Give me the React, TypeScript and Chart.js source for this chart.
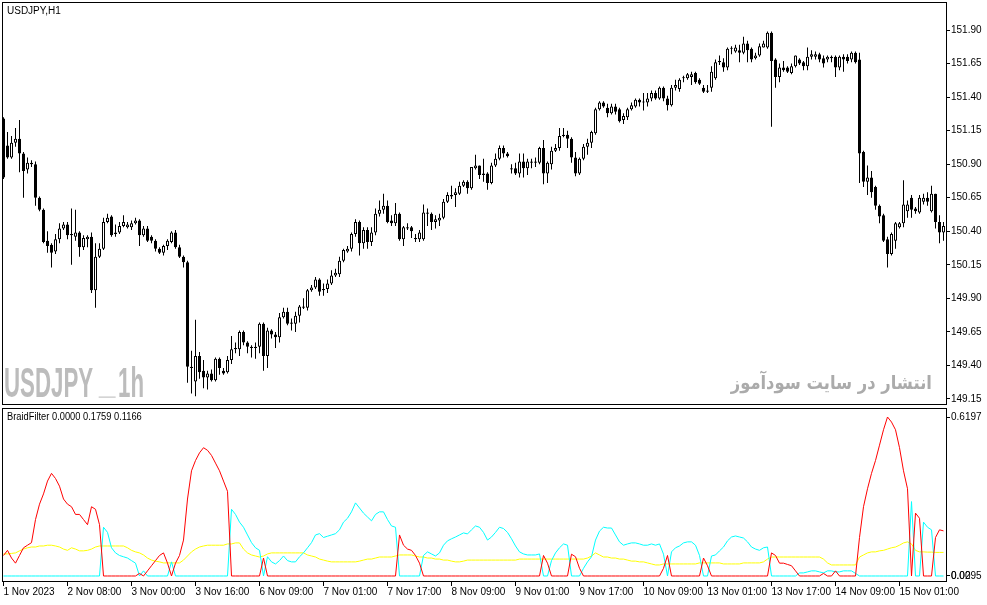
import { useEffect, useRef } from "react"
import { Chart, registerables } from "chart.js"

Chart.register(...registerables)

// USDJPY H1 candles, 1 Nov 2023 16:00 .. 15 Nov 2023
const OPEN = [
  151.24, 151.04, 150.95, 151.06, 151.09, 150.98, 150.86, 150.91, 150.90, 150.65,
  150.56, 150.33, 150.30, 150.25, 150.34, 150.42, 150.45, 150.37, 150.36, 150.39,
  150.28, 150.34, 150.36, 149.96, 150.21, 150.27, 150.47, 150.51, 150.38, 150.39,
  150.44, 150.43, 150.43, 150.46, 150.48, 150.37, 150.42, 150.36, 150.33, 150.27,
  150.24, 150.29, 150.32, 150.39, 150.28, 150.21, 150.17, 149.39, 149.28, 149.47,
  149.36, 149.31, 149.34, 149.29, 149.45, 149.36, 149.35, 149.44, 149.52, 149.52,
  149.65, 149.57, 149.54, 149.53, 149.54, 149.71, 149.47, 149.66, 149.63, 149.61,
  149.76, 149.80, 149.72, 149.71, 149.77, 149.83, 149.83, 149.96, 149.98, 150.04,
  149.96, 149.97, 150.01, 150.07, 150.08, 150.18, 150.25, 150.27, 150.38, 150.47,
  150.31, 150.41, 150.32, 150.39, 150.53, 150.56, 150.59, 150.48, 150.46, 150.53,
  150.34, 150.42, 150.43, 150.34, 150.34, 150.34, 150.54, 150.53, 150.47, 150.48,
  150.50, 150.62, 150.66, 150.67, 150.68, 150.74, 150.77, 150.72, 150.87, 150.89,
  150.82, 150.83, 150.76, 150.89, 150.94, 151.02, 150.98, 150.86, 150.87, 150.83,
  150.92, 150.87, 150.92, 150.91, 150.91, 151.02, 150.83, 150.90, 151.00, 151.02,
  151.11, 151.12, 151.09, 150.95, 150.83, 150.94, 151.03, 151.06, 151.13, 151.31,
  151.36, 151.32, 151.28, 151.33, 151.31, 151.23, 151.25, 151.31, 151.33, 151.38,
  151.36, 151.36, 151.39, 151.43, 151.39, 151.47, 151.39, 151.34, 151.47, 151.46,
  151.54, 151.54, 151.55, 151.58, 151.53, 151.47, 151.45, 151.47, 151.54, 151.66,
  151.66, 151.62, 151.76, 151.74, 151.75, 151.73, 151.80, 151.76, 151.69, 151.71,
  151.77, 151.77, 151.88, 151.68, 151.55, 151.62, 151.62, 151.58, 151.63, 151.68,
  151.66, 151.63, 151.70, 151.70, 151.72, 151.69, 151.68, 151.69, 151.70, 151.62,
  151.70, 151.70, 151.68, 151.73, 151.68, 150.99, 150.77, 150.80, 150.73, 150.59,
  150.52, 150.34, 150.23, 150.33, 150.43, 150.46, 150.55, 150.65, 150.57, 150.54,
  150.62, 150.65, 150.55, 150.68, 150.47, 150.39,
]

const HIGH = [
  151.25, 151.14, 151.11, 151.17, 151.23, 150.99, 150.95, 150.93, 150.92, 150.66,
  150.57, 150.40, 150.31, 150.38, 150.46, 150.47, 150.47, 150.57, 150.56, 150.40,
  150.37, 150.37, 150.39, 150.31, 150.31, 150.50, 150.53, 150.52, 150.45, 150.47,
  150.52, 150.47, 150.48, 150.50, 150.49, 150.44, 150.44, 150.37, 150.34, 150.28,
  150.30, 150.34, 150.40, 150.41, 150.30, 150.22, 150.18, 149.51, 149.74, 149.50,
  149.44, 149.36, 149.37, 149.46, 149.46, 149.38, 149.47, 149.62, 149.57, 149.66,
  149.66, 149.58, 149.55, 149.57, 149.72, 149.72, 149.68, 149.67, 149.65, 149.79,
  149.83, 149.83, 149.75, 149.80, 149.85, 149.90, 149.97, 150.00, 150.06, 150.05,
  150.01, 150.04, 150.11, 150.12, 150.21, 150.27, 150.29, 150.39, 150.49, 150.48,
  150.43, 150.43, 150.43, 150.57, 150.63, 150.68, 150.63, 150.52, 150.61, 150.54,
  150.44, 150.46, 150.44, 150.38, 150.41, 150.60, 150.57, 150.54, 150.52, 150.53,
  150.64, 150.69, 150.74, 150.72, 150.77, 150.78, 150.78, 150.88, 150.97, 150.89,
  150.94, 150.84, 150.91, 150.98, 151.04, 151.04, 150.99, 150.90, 150.91, 150.98,
  150.98, 150.94, 150.94, 150.95, 151.03, 151.08, 150.92, 151.03, 151.05, 151.17,
  151.17, 151.15, 151.10, 150.99, 150.95, 151.05, 151.09, 151.15, 151.32, 151.37,
  151.37, 151.35, 151.35, 151.35, 151.32, 151.28, 151.32, 151.36, 151.39, 151.39,
  151.43, 151.43, 151.45, 151.45, 151.48, 151.48, 151.41, 151.49, 151.53, 151.54,
  151.56, 151.58, 151.59, 151.59, 151.54, 151.49, 151.49, 151.63, 151.68, 151.71,
  151.69, 151.77, 151.78, 151.79, 151.79, 151.85, 151.82, 151.77, 151.73, 151.80,
  151.82, 151.89, 151.89, 151.69, 151.65, 151.67, 151.63, 151.65, 151.71, 151.69,
  151.67, 151.77, 151.75, 151.74, 151.73, 151.71, 151.71, 151.71, 151.71, 151.71,
  151.72, 151.72, 151.74, 151.74, 151.73, 151.00, 150.89, 150.85, 150.74, 150.60,
  150.53, 150.36, 150.39, 150.47, 150.47, 150.78, 150.63, 150.67, 150.58, 150.67,
  150.68, 150.69, 150.74, 150.68, 150.52, 150.47,
]

const LOW = [
  150.79, 150.94, 150.94, 151.03, 150.84, 150.65, 150.83, 150.88, 150.59, 150.55,
  150.31, 150.24, 150.13, 150.23, 150.31, 150.41, 150.34, 150.15, 150.33, 150.21,
  150.26, 150.28, 149.94, 149.83, 150.20, 150.26, 150.46, 150.36, 150.36, 150.38,
  150.43, 150.42, 150.41, 150.45, 150.29, 150.36, 150.32, 150.31, 150.25, 150.23,
  150.22, 150.26, 150.31, 150.27, 150.20, 150.13, 149.27, 149.19, 149.17, 149.30,
  149.23, 149.22, 149.28, 149.28, 149.33, 149.33, 149.34, 149.41, 149.49, 149.47,
  149.55, 149.49, 149.46, 149.45, 149.49, 149.36, 149.38, 149.60, 149.53, 149.57,
  149.75, 149.70, 149.66, 149.65, 149.72, 149.82, 149.81, 149.95, 149.97, 149.92,
  149.92, 149.94, 150.00, 150.06, 150.06, 150.17, 150.24, 150.25, 150.36, 150.22,
  150.27, 150.27, 150.29, 150.37, 150.51, 150.53, 150.46, 150.44, 150.44, 150.33,
  150.29, 150.41, 150.35, 150.32, 150.32, 150.33, 150.44, 150.41, 150.42, 150.44,
  150.49, 150.61, 150.64, 150.58, 150.67, 150.73, 150.68, 150.71, 150.86, 150.79,
  150.77, 150.71, 150.75, 150.88, 150.93, 150.95, 150.95, 150.83, 150.82, 150.80,
  150.80, 150.82, 150.87, 150.88, 150.90, 150.75, 150.76, 150.86, 150.99, 151.00,
  151.10, 151.02, 150.91, 150.81, 150.82, 150.93, 150.97, 151.02, 151.12, 151.30,
  151.32, 151.25, 151.27, 151.27, 151.21, 151.20, 151.23, 151.30, 151.32, 151.33,
  151.30, 151.33, 151.37, 151.38, 151.38, 151.37, 151.30, 151.33, 151.45, 151.44,
  151.51, 151.53, 151.49, 151.50, 151.49, 151.43, 151.43, 151.44, 151.53, 151.64,
  151.59, 151.60, 151.72, 151.73, 151.66, 151.72, 151.66, 151.66, 151.68, 151.70,
  151.77, 151.76, 151.18, 151.47, 151.51, 151.59, 151.58, 151.57, 151.62, 151.64,
  151.60, 151.60, 151.68, 151.68, 151.66, 151.62, 151.66, 151.66, 151.55, 151.60,
  151.59, 151.65, 151.66, 151.65, 150.76, 150.73, 150.67, 150.65, 150.56, 150.46,
  150.32, 150.13, 150.22, 150.27, 150.42, 150.43, 150.50, 150.50, 150.53, 150.53,
  150.60, 150.59, 150.54, 150.42, 150.31, 150.33,
]

const CLOSE = [
  150.80, 150.95, 151.06, 151.09, 150.98, 150.85, 150.91, 150.90, 150.65, 150.56,
  150.32, 150.29, 150.24, 150.34, 150.42, 150.45, 150.37, 150.38, 150.39, 150.28,
  150.35, 150.36, 149.96, 150.21, 150.27, 150.47, 150.50, 150.37, 150.39, 150.44,
  150.47, 150.45, 150.46, 150.48, 150.37, 150.42, 150.33, 150.33, 150.27, 150.24,
  150.29, 150.33, 150.39, 150.28, 150.21, 150.17, 149.39, 149.38, 149.47, 149.35,
  149.31, 149.34, 149.29, 149.45, 149.38, 149.34, 149.44, 149.52, 149.53, 149.65,
  149.57, 149.54, 149.53, 149.54, 149.71, 149.47, 149.66, 149.63, 149.61, 149.76,
  149.80, 149.71, 149.71, 149.77, 149.84, 149.84, 149.96, 149.98, 150.04, 149.95,
  149.97, 150.01, 150.07, 150.09, 150.18, 150.26, 150.27, 150.38, 150.47, 150.31,
  150.41, 150.32, 150.39, 150.53, 150.56, 150.59, 150.47, 150.46, 150.53, 150.34,
  150.43, 150.43, 150.40, 150.35, 150.39, 150.54, 150.53, 150.47, 150.49, 150.50,
  150.62, 150.67, 150.67, 150.69, 150.74, 150.77, 150.72, 150.88, 150.89, 150.82,
  150.83, 150.76, 150.89, 150.94, 151.02, 150.98, 150.96, 150.87, 150.83, 150.92,
  150.87, 150.92, 150.91, 150.92, 151.02, 150.83, 150.91, 151.00, 151.02, 151.11,
  151.12, 151.09, 150.95, 150.83, 150.94, 151.03, 151.06, 151.14, 151.31, 151.36,
  151.33, 151.28, 151.33, 151.29, 151.22, 151.26, 151.31, 151.34, 151.38, 151.36,
  151.36, 151.39, 151.43, 151.39, 151.47, 151.39, 151.34, 151.47, 151.49, 151.53,
  151.54, 151.57, 151.57, 151.51, 151.50, 151.44, 151.44, 151.59, 151.66, 151.67,
  151.62, 151.76, 151.76, 151.77, 151.73, 151.80, 151.75, 151.68, 151.71, 151.78,
  151.80, 151.88, 151.67, 151.55, 151.62, 151.60, 151.59, 151.63, 151.71, 151.65,
  151.63, 151.70, 151.72, 151.72, 151.68, 151.65, 151.70, 151.70, 151.62, 151.70,
  151.68, 151.67, 151.73, 151.66, 150.98, 150.77, 150.80, 150.69, 150.59, 150.51,
  150.33, 150.23, 150.38, 150.46, 150.46, 150.60, 150.60, 150.56, 150.55, 150.65,
  150.65, 150.62, 150.68, 150.47, 150.39, 150.44,
]

// BraidFilter buffers, one value per candle
const RED = [
  0.08, 0.10, 0.07, 0.05, 0.08, 0.11, 0.12, 0.13, 0.22, 0.28,
  0.32, 0.37, 0.40, 0.38, 0.35, 0.30, 0.28, 0.27, 0.24, 0.24,
  0.22, 0.20, 0.27, 0.26, 0.20, 0, 0, 0, 0, 0,
  0, 0, 0, 0, 0.01, 0, 0.02, 0.04, 0.06, 0.08,
  0.09, 0.05, 0, 0.05, 0.08, 0.14, 0.30, 0.41, 0.45, 0.48,
  0.50, 0.49, 0.47, 0.44, 0.41, 0.37, 0.33, 0, 0, 0,
  0, 0, 0, 0, 0, 0.07, 0, 0, 0, 0,
  0, 0, 0, 0, 0, 0, 0, 0, 0, 0,
  0, 0, 0, 0, 0, 0, 0, 0, 0, 0,
  0, 0, 0, 0, 0, 0, 0, 0, 0, 0.16,
  0.12, 0.105, 0.10, 0.08, 0.05, 0, 0, 0, 0, 0,
  0, 0, 0, 0, 0, 0, 0, 0, 0, 0,
  0, 0, 0, 0, 0, 0, 0, 0, 0, 0,
  0, 0, 0, 0, 0, 0.08, 0.05, 0, 0, 0,
  0, 0, 0.085, 0.075, 0.03, 0, 0, 0, 0, 0,
  0, 0, 0, 0, 0, 0, 0, 0, 0, 0,
  0, 0, 0, 0, 0, 0.03, 0.08, 0, 0, 0,
  0, 0, 0, 0, 0, 0.07, 0.04, 0, 0, 0,
  0, 0, 0, 0, 0, 0, 0, 0, 0, 0,
  0, 0, 0.09, 0.08, 0.05, 0.05, 0.045, 0.04, 0.02, 0,
  0, 0, 0, 0, 0, 0.01, 0, 0, 0.02, 0,
  0, 0, 0, 0, 0.15, 0.27, 0.34, 0.40, 0.45, 0.51,
  0.57, 0.6197, 0.60, 0.57, 0.50, 0.41, 0.34, 0, 0.245, 0.225,
  0, 0, 0, 0.15, 0.18, 0.1759,
]

const CYAN = [
  0, 0, 0, 0, 0, 0, 0, 0, 0, 0,
  0, 0, 0, 0, 0, 0, 0, 0, 0, 0,
  0, 0, 0, 0, 0, 0.19, 0.17, 0.11, 0.09, 0.08,
  0.075, 0.07, 0.06, 0.05, 0, 0.02, 0, 0, 0, 0,
  0, 0, 0.055, 0, 0, 0, 0, 0, 0, 0,
  0, 0, 0, 0, 0, 0, 0, 0.26, 0.24, 0.21,
  0.19, 0.16, 0.13, 0.11, 0.10, 0, 0.075, 0.055, 0.047, 0.06,
  0.078, 0.06, 0.055, 0.055, 0.075, 0.09, 0.11, 0.13, 0.16, 0.165,
  0.15, 0.155, 0.16, 0.165, 0.18, 0.21, 0.225, 0.25, 0.285, 0.265,
  0.245, 0.23, 0.215, 0.24, 0.25, 0.25, 0.22, 0.195, 0.19, 0,
  0, 0, 0, 0, 0, 0.08, 0.094, 0.086, 0.078, 0.09,
  0.12, 0.137, 0.145, 0.152, 0.16, 0.168, 0.164, 0.18, 0.195, 0.19,
  0.17, 0.14, 0.152, 0.17, 0.19, 0.185, 0.17, 0.145, 0.117, 0.094,
  0.086, 0.082, 0.082, 0.082, 0.086, 0, 0, 0.06, 0.09, 0.11,
  0.125, 0.12, 0, 0, 0, 0.03, 0.055, 0.075, 0.14, 0.175,
  0.19, 0.187, 0.187, 0.16, 0.133, 0.12, 0.125, 0.129, 0.129, 0.125,
  0.12, 0.12, 0.125, 0.12, 0.125, 0.085, 0, 0.094, 0.11, 0.117,
  0.129, 0.133, 0.133, 0.12, 0.08, 0, 0, 0.078, 0.082, 0.098,
  0.113, 0.137, 0.152, 0.156, 0.152, 0.148, 0.133, 0.113, 0.105, 0.10,
  0.11, 0.113, 0, 0, 0, 0, 0, 0, 0, 0.012,
  0.012, 0.016, 0.02, 0.02, 0.016, 0.012, 0.02, 0.02, 0.016, 0.016,
  0.02, 0.02, 0.02, 0.01, 0, 0, 0, 0, 0, 0,
  0, 0, 0, 0, 0, 0, 0, 0.29, 0, 0,
  0.21, 0.19, 0.18, 0, 0, 0,
]

const YELLOW = [
  0.086, 0.086, 0.088, 0.090, 0.098, 0.105, 0.11, 0.113, 0.113, 0.117,
  0.117, 0.12, 0.12, 0.117, 0.113, 0.105, 0.10, 0.11, 0.105, 0.098,
  0.098, 0.10, 0.105, 0.113, 0.117, 0.117, 0.117, 0.117, 0.117, 0.117,
  0.117, 0.11, 0.10, 0.094, 0.09, 0.082, 0.07, 0.062, 0.058, 0.055,
  0.051, 0.051, 0.051, 0.051, 0.051, 0.062, 0.078, 0.094, 0.105, 0.113,
  0.117, 0.12, 0.12, 0.12, 0.12, 0.12, 0.125, 0.125, 0.129, 0.129,
  0.105, 0.09, 0.082, 0.078, 0.074, 0.078, 0.086, 0.09, 0.09, 0.09,
  0.09, 0.09, 0.09, 0.09, 0.09, 0.09, 0.082, 0.078, 0.074, 0.066,
  0.062, 0.058, 0.055, 0.055, 0.055, 0.055, 0.055, 0.055, 0.055, 0.058,
  0.062, 0.066, 0.066, 0.07, 0.074, 0.074, 0.074, 0.074, 0.078, 0.082,
  0.082, 0.082, 0.082, 0.078, 0.074, 0.074, 0.07, 0.07, 0.066, 0.066,
  0.062, 0.062, 0.058, 0.055, 0.055, 0.058, 0.062, 0.062, 0.062, 0.062,
  0.062, 0.062, 0.062, 0.062, 0.062, 0.062, 0.062, 0.062, 0.062, 0.066,
  0.066, 0.066, 0.066, 0.066, 0.066, 0.066, 0.066, 0.066, 0.066, 0.066,
  0.066, 0.066, 0.066, 0.066, 0.066, 0.066, 0.07, 0.078, 0.09, 0.082,
  0.074, 0.074, 0.07, 0.07, 0.066, 0.066, 0.062, 0.058, 0.058, 0.055,
  0.055, 0.051, 0.047, 0.043, 0.043, 0.047, 0.047, 0.047, 0.047, 0.047,
  0.047, 0.047, 0.047, 0.047, 0.051, 0.051, 0.051, 0.051, 0.051, 0.051,
  0.047, 0.047, 0.047, 0.047, 0.047, 0.051, 0.051, 0.051, 0.051, 0.051,
  0.055, 0.066, 0.074, 0.074, 0.074, 0.074, 0.074, 0.074, 0.074, 0.074,
  0.074, 0.074, 0.074, 0.074, 0.074, 0.066, 0.051, 0.043, 0.043, 0.043,
  0.043, 0.043, 0.043, 0.043, 0.074, 0.082, 0.09, 0.094, 0.094, 0.098,
  0.10, 0.105, 0.11, 0.113, 0.12, 0.129, 0.133, 0.125, 0.10, 0.094,
  0.094, 0.093, 0.093, 0.092, 0.092, 0.092,
]

const PRICE_TICKS = [149.15, 149.4, 149.65, 149.9, 150.15, 150.4, 150.65, 150.9, 151.15, 151.4, 151.65, 151.9]
const INDICATOR_TICKS = [0, 0.6197]
const INDICATOR_EXTRA_LABEL = "0.0295"
const TIME_LABELS = [
  "1 Nov 2023", "2 Nov 08:00", "3 Nov 00:00", "3 Nov 16:00", "6 Nov 09:00",
  "7 Nov 01:00", "7 Nov 17:00", "8 Nov 09:00", "9 Nov 01:00", "9 Nov 17:00",
  "10 Nov 09:00", "13 Nov 01:00", "13 Nov 17:00", "14 Nov 09:00", "15 Nov 01:00",
]
const LABEL_STEP = 16

const FONT = { family: "'Liberation Sans', Arial, sans-serif", size: 10 }
const X_MIN = -0.375
const X_MAX = X_MIN + OPEN.length

const framePlugin = {
  id: "frame",
  afterDatasetsDraw(chart: Chart) {
    const { ctx, chartArea: a } = chart
    ctx.save()
    ctx.strokeStyle = "#000"
    ctx.lineWidth = 1
    ctx.strokeRect(Math.round(a.left) + 0.5, Math.round(a.top) + 0.5, Math.round(a.right - a.left), Math.round(a.bottom - a.top) - 1)
    ctx.restore()
  },
}

// the right axis sits flush with the frame: no extra room for half labels
const fixWidth = (s: any) => {
  s.width = 41
  s.paddingTop = 0
  s.paddingBottom = 0
}

function CandlePanel() {
  const canvasRef = useRef<HTMLCanvasElement>(null)
  useEffect(() => {
    if (!canvasRef.current) return
    const idx = OPEN.map((_, i) => i)
    const chart = new Chart(canvasRef.current, {
      type: "bar",
      data: {
        datasets: [
          {
            label: "body",
            data: idx.map((i) => ({ x: i, y: [OPEN[i], CLOSE[i]] })) as any,
            backgroundColor: idx.map((i) => (CLOSE[i] >= OPEN[i] ? "#ffffff" : "#000000")),
            borderColor: "#000",
            borderWidth: 1,
            borderSkipped: false,
            barThickness: 3,
            minBarLength: 1,
            grouped: false,
            inflateAmount: 0,
            order: 0,
          },
          {
            label: "wick",
            data: idx.map((i) => ({ x: i, y: [LOW[i], HIGH[i]] })) as any,
            backgroundColor: "#000",
            borderWidth: 0,
            barThickness: 1,
            minBarLength: 1,
            grouped: false,
            inflateAmount: 0,
            order: 1,
          },
        ],
      },
      options: {
        responsive: false,
        animation: false,
        devicePixelRatio: 1,
        events: [],
        layout: { padding: { left: 2, top: 2, right: 0, bottom: 1 } },
        plugins: { legend: { display: false }, tooltip: { enabled: false } },
        scales: {
          x: { type: "linear", display: false, min: X_MIN, max: X_MAX, offset: false },
          y: {
            position: "right",
            min: 149.105,
            max: 152.109,
            beginAtZero: false,
            afterBuildTicks: (s: any) => {
              s.ticks = PRICE_TICKS.map((v) => ({ value: v }))
            },
            afterFit: fixWidth,
            border: { display: false },
            grid: { drawOnChartArea: false, drawTicks: true, tickLength: 4, color: "#000" },
            ticks: { font: FONT, color: "#000", padding: 1, autoSkip: false, callback: (v: any) => Number(v).toFixed(2) },
          },
        },
      },
      plugins: [framePlugin],
    })
    return () => chart.destroy()
  }, [])
  return <canvas ref={canvasRef} width={987} height={406} style={{ position: "absolute", left: 0, top: 0 }} />
}

function IndicatorPanel() {
  const canvasRef = useRef<HTMLCanvasElement>(null)
  useEffect(() => {
    if (!canvasRef.current) return
    const idx = OPEN.map((_, i) => i)
    const line = (values: number[], color: string, label: string) => ({
      label,
      data: idx.map((i) => ({ x: i, y: values[i] })),
      borderColor: color,
      borderWidth: 1,
      pointRadius: 0,
      tension: 0,
      fill: false,
    })
    const extraLabel = {
      id: "extraLabel",
      afterDraw(chart: Chart) {
        const s: any = chart.scales.y
        const { ctx } = chart
        ctx.save()
        ctx.font = `${FONT.size}px ${FONT.family}`
        ctx.fillStyle = "#000"
        ctx.textBaseline = "middle"
        ctx.textAlign = "left"
        ctx.fillText(INDICATOR_EXTRA_LABEL, s.left + 5, s.getPixelForValue(0))
        ctx.restore()
      },
    }
    const chart = new Chart(canvasRef.current, {
      type: "line",
      data: {
        datasets: [line(RED, "#ff0000", "red"), line(CYAN, "#00ffff", "cyan"), line(YELLOW, "#ffff00", "yellow")],
      },
      options: {
        responsive: false,
        animation: false,
        devicePixelRatio: 1,
        events: [],
        layout: { padding: { left: 2, top: 2, right: 0, bottom: 0 } },
        plugins: { legend: { display: false }, tooltip: { enabled: false } },
        scales: {
          x: {
            type: "linear",
            min: X_MIN,
            max: X_MAX,
            afterBuildTicks: (s: any) => {
              s.ticks = TIME_LABELS.map((_, k) => ({ value: k * LABEL_STEP }))
            },
            afterFit: (s: any) => {
              s.height = 23
              s.paddingLeft = 0
            },
            border: { display: false },
            grid: { drawOnChartArea: false, drawTicks: true, tickLength: 4, color: "#000" },
            ticks: {
              font: FONT,
              color: "#000",
              align: "start",
              maxRotation: 0,
              autoSkip: false,
              padding: 0,
              callback: (_v: any, i: number) => TIME_LABELS[i] ?? "",
            },
          },
          y: {
            position: "right",
            min: -0.0234,
            max: 0.6548,
            afterBuildTicks: (s: any) => {
              s.ticks = INDICATOR_TICKS.map((v) => ({ value: v }))
            },
            afterFit: fixWidth,
            border: { display: false },
            grid: { drawOnChartArea: false, drawTicks: true, tickLength: 4, color: "#000" },
            ticks: {
              font: FONT,
              color: "#000",
              padding: 1,
              autoSkip: false,
              callback: (v: any) => (Number(v) === 0 ? "0.00" : Number(v).toFixed(4)),
            },
          },
        },
      },
      plugins: [framePlugin, extraLabel],
    })
    return () => chart.destroy()
  }, [])
  return <canvas ref={canvasRef} width={987} height={199} style={{ position: "absolute", left: 0, top: 406 }} />
}

const textBase: React.CSSProperties = {
  position: "absolute",
  fontFamily: "'Liberation Sans', Arial, sans-serif",
  fontSize: 10,
  lineHeight: "10px",
  color: "#000",
  whiteSpace: "pre",
  transformOrigin: "left top",
  pointerEvents: "none",
}

const markStyle: React.CSSProperties = {
  position: "absolute",
  fontFamily: "'Liberation Sans Narrow', 'Liberation Sans', sans-serif",
  fontWeight: "bold",
  fontSize: 42,
  lineHeight: "42px",
  color: "#bcbcbc",
  whiteSpace: "pre",
  transformOrigin: "left top",
  transform: "scaleX(0.53)",
  pointerEvents: "none",
}

export default function App() {
  return (
    <div style={{ position: "absolute", left: 0, top: 0, width: 987, height: 605, background: "#fff", overflow: "hidden" }}>
      <CandlePanel />
      <IndicatorPanel />
      <div style={{ ...textBase, left: 7, top: 6 }}>USDJPY,H1</div>
      <div style={{ ...textBase, left: 7, top: 412, transform: "scaleX(0.93)" }}>BraidFilter 0.0000 0.1759 0.1166</div>
      <div style={{ ...markStyle, left: 4, top: 362 }}>USDJPY</div>
      <div style={{ ...markStyle, left: 99, top: 358, color: "#d4d4d4", transform: "scaleX(0.7)" }}>_</div>
      <div style={{ ...markStyle, left: 118, top: 362 }}>1h</div>
      <div
        dir="rtl"
        style={{
          position: "absolute",
          right: 55,
          top: 370,
          fontFamily: "'DejaVu Sans', sans-serif",
          fontWeight: "bold",
          fontSize: 19,
          lineHeight: "24px",
          color: "#ababab",
          whiteSpace: "pre",
          transformOrigin: "right top",
          transform: "scaleX(0.86)",
          pointerEvents: "none",
        }}
      >
        انتشار در سایت سودآموز
      </div>
    </div>
  )
}
